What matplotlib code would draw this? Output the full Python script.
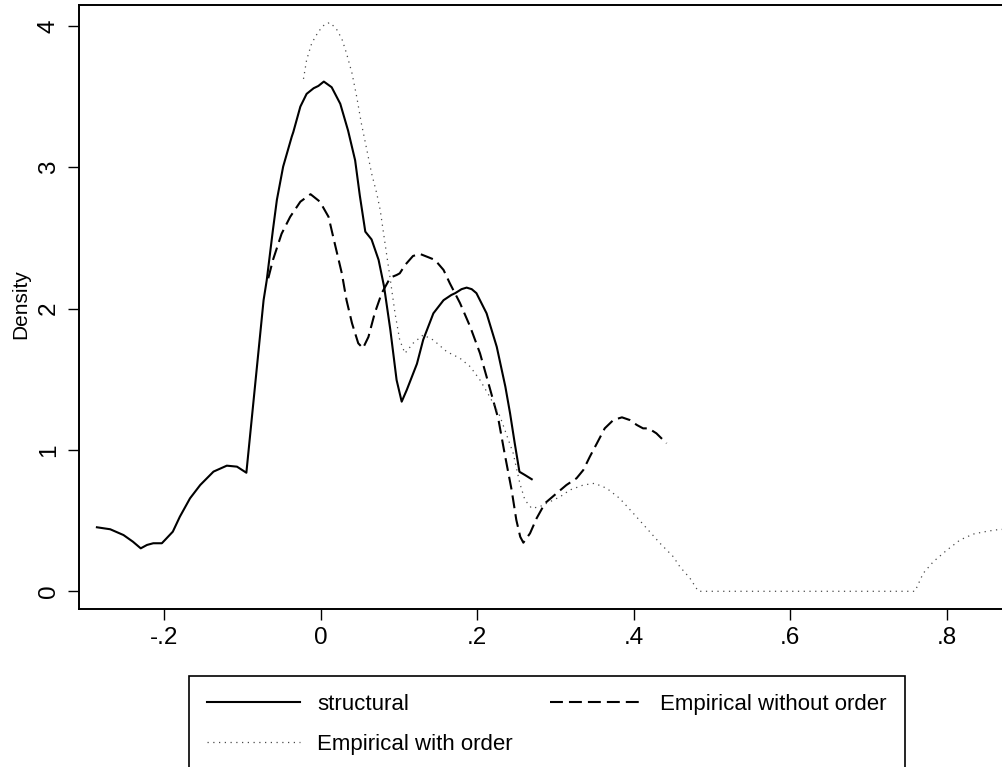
import matplotlib
matplotlib.use("Agg")
import matplotlib.pyplot as plt
from matplotlib import font_manager

# ---------------- data ----------------
structural_x = [-0.286, -0.269, -0.252, -0.240, -0.230, -0.222, -0.214, -0.203, -0.197,
                -0.189, -0.180, -0.167, -0.154, -0.137, -0.120, -0.107, -0.095, -0.073,
                -0.069, -0.061, -0.056, -0.048, -0.037, -0.035, -0.026, -0.018, -0.009,
                -0.003, 0.004, 0.014, 0.025, 0.035, 0.044, 0.050, 0.057, 0.065, 0.074,
                0.081, 0.089, 0.097, 0.1035, 0.110, 0.123, 0.131, 0.144, 0.157, 0.167,
                0.172, 0.180, 0.1865, 0.193, 0.199, 0.212, 0.225, 0.236, 0.242, 0.248,
                0.254, 0.261, 0.2697]
structural_y = [0.453, 0.439, 0.398, 0.351, 0.304, 0.328, 0.340, 0.340, 0.375,
                0.422, 0.528, 0.658, 0.752, 0.847, 0.889, 0.882, 0.839, 2.06,
                2.20, 2.56, 2.77, 3.005, 3.217, 3.25, 3.43, 3.52, 3.56,
                3.576, 3.607, 3.567, 3.45, 3.26, 3.05, 2.80, 2.545, 2.49, 2.345,
                2.156, 1.85, 1.495, 1.342, 1.425, 1.61, 1.78, 1.967, 2.06, 2.097,
                2.11, 2.138, 2.149, 2.138, 2.11, 1.967, 1.73, 1.448, 1.26, 1.047,
                0.846, 0.823, 0.793]

no_order_x = [-0.067, -0.061, -0.050, -0.039, -0.026, -0.013, -0.001, 0.010, 0.018,
              0.027, 0.033, 0.040, 0.048, 0.054, 0.061, 0.069, 0.078, 0.089, 0.097,
              0.101, 0.108, 0.118, 0.127, 0.1375, 0.146, 0.157, 0.165, 0.178, 0.191,
              0.2036, 0.216, 0.227, 0.235, 0.244, 0.250, 0.255, 0.259, 0.2675, 0.276,
              0.2866, 0.3016, 0.314, 0.327, 0.3356, 0.344, 0.353, 0.363, 0.374, 0.385,
              0.395, 0.404, 0.412, 0.419, 0.429, 0.442]
no_order_y = [2.215, 2.345, 2.53, 2.65, 2.757, 2.81, 2.757, 2.65, 2.46,
              2.25, 2.06, 1.897, 1.755, 1.72, 1.80, 1.967, 2.11, 2.22, 2.238,
              2.25, 2.31, 2.373, 2.387, 2.364, 2.345, 2.274, 2.18, 2.04, 1.873,
              1.684, 1.44, 1.22, 0.977, 0.717, 0.505, 0.386, 0.344, 0.41, 0.517,
              0.623, 0.694, 0.752, 0.80, 0.858, 0.953, 1.047, 1.153, 1.212, 1.231,
              1.212, 1.177, 1.153, 1.153, 1.118, 1.047]

with_order_x = [-0.022, -0.018, -0.0115, -0.003, 0.0055, 0.012, 0.020, 0.027, 0.033,
                0.040, 0.046, 0.052, 0.059, 0.065, 0.0716, 0.076, 0.082, 0.0886, 0.095,
                0.101, 0.1077, 0.118, 0.131, 0.144, 0.161, 0.178, 0.191, 0.2036, 0.216,
                0.229, 0.246, 0.2545, 0.261, 0.2697, 0.280, 0.293, 0.306, 0.3185, 0.3356,
                0.350, 0.3655, 0.382, 0.3995, 0.4166, 0.4336, 0.4506, 0.459, 0.472,
                0.4826, 0.7595, 0.770, 0.783, 0.800, 0.817, 0.834, 0.847, 0.862, 0.875]
with_order_y = [3.626, 3.76, 3.878, 3.96, 4.015, 4.024, 3.98, 3.91, 3.807,
                3.666, 3.50, 3.31, 3.123, 2.958, 2.816, 2.70, 2.47, 2.22, 1.967,
                1.778, 1.684, 1.755, 1.814, 1.778, 1.696, 1.649, 1.59, 1.495, 1.377,
                1.24, 0.977, 0.764, 0.646, 0.587, 0.599, 0.634, 0.669, 0.717, 0.752,
                0.764, 0.729, 0.658, 0.552, 0.446, 0.34, 0.245, 0.174, 0.092,
                0.0, 0.0, 0.127, 0.21, 0.29, 0.363, 0.405, 0.42, 0.434, 0.44]

series_labels = ["structural", "Empirical without order", "Empirical with order"]
x_ticks = [-0.2, 0, 0.2, 0.4, 0.6, 0.8]
x_tick_labels = ["-.2", "0", ".2", ".4", ".6", ".8"]
y_ticks = [0, 1, 2, 3, 4]
y_tick_labels = ["0", "1", "2", "3", "4"]
y_title = "Density"

# ---------------- styling ----------------
names = {f.name for f in font_manager.fontManager.ttflist}
base_font = "Liberation Sans" if "Liberation Sans" in names else "DejaVu Sans"
plt.rcParams["font.family"] = [base_font, "DejaVu Sans"]

W, H = 1003, 767
fig = plt.figure(figsize=(W / 100, H / 100), dpi=100)
left_px, right_px, top_px, bottom_px = 79, 1003, 4.7, 609.3
ax = fig.add_axes([left_px / W, 1 - bottom_px / H, (right_px - left_px) / W,
                   (bottom_px - top_px) / H])

l1, = ax.plot(structural_x, structural_y, color="black", lw=1.5,
              solid_joinstyle="round", label=series_labels[0])
l2, = ax.plot(no_order_x, no_order_y, color="black", lw=1.5,
              linestyle=(0, (6.2, 2.9)), label=series_labels[1])
l3, = ax.plot(with_order_x, with_order_y, color="#4a4a4a", lw=0.9,
              linestyle=(0, (1, 3.6)), label=series_labels[2])

ax.set_xlim(-0.3089, 0.8720)
ax.set_ylim(-0.1274, 4.151)
ax.set_xticks(x_ticks)
ax.set_xticklabels(x_tick_labels)
ax.set_yticks(y_ticks)
ax.set_yticklabels(y_tick_labels, rotation=90, va="center")

for s in ["left", "bottom", "top"]:
    ax.spines[s].set_linewidth(1.4)
ax.spines["right"].set_visible(False)
ax.tick_params(axis="both", direction="out", length=7.9, width=1.0,
               labelsize=17.5, colors="black")
ax.tick_params(axis="x", pad=5.0)
ax.tick_params(axis="y", pad=6.0)

ax.set_ylabel(y_title, fontsize=15)
ax.yaxis.set_label_coords((30 - left_px) / (right_px - left_px), 0.505)

fs = 16
leg = fig.legend(handles=[l1, l3, l2], labels=[series_labels[0], series_labels[2], series_labels[1]],
                 ncol=2, loc="upper left", bbox_to_anchor=(189 / W, 1 - 676 / H),
                 frameon=True, fancybox=False, edgecolor="black", framealpha=1,
                 prop={"family": base_font, "size": fs},
                 handlelength=4.2, handletextpad=0.77, columnspacing=1.67,
                 labelspacing=0.85, borderpad=0.8, borderaxespad=0)
leg.get_frame().set_linewidth(1.2)

fig.savefig("out.png", dpi=100)
